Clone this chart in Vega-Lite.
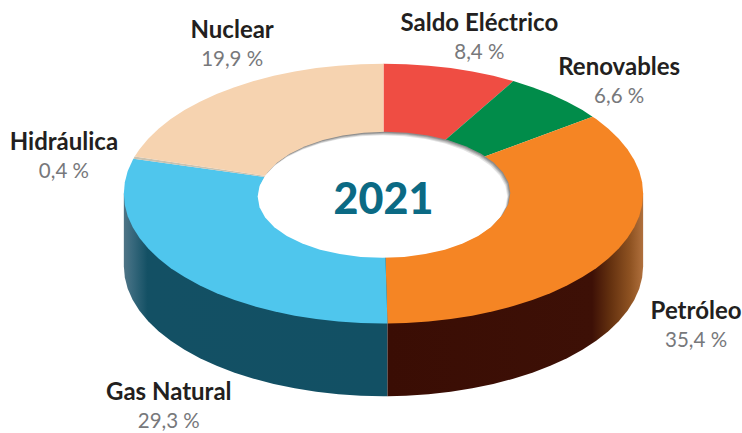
{"$schema":"https://vega.github.io/schema/vega-lite/v6.json","width":742,"height":433,"padding":0,"autosize":{"type":"fit","contains":"padding"},"background":"white","view":{"stroke":null},
"datasets":{
"walls":[
{"slice":"Gas Natural","x":124,"y":194.5,"y2":267.5},{"slice":"Gas Natural","x":125,"y":194.5,"y2":278.9},{"slice":"Gas Natural","x":127.9,"y":194.5,"y2":290.2},{"slice":"Gas Natural","x":132.9,"y":194.5,"y2":301.3},{"slice":"Gas Natural","x":139.7,"y":194.5,"y2":312.1},{"slice":"Gas Natural","x":148.4,"y":194.5,"y2":322.7},{"slice":"Gas Natural","x":158.8,"y":194.5,"y2":332.75},{"slice":"Gas Natural","x":171,"y":194.5,"y2":342.4},{"slice":"Gas Natural","x":184.8,"y":194.5,"y2":351.4},{"slice":"Gas Natural","x":200.2,"y":194.5,"y2":359.8},{"slice":"Gas Natural","x":216.9,"y":194.5,"y2":367.5},{"slice":"Gas Natural","x":234.9,"y":194.5,"y2":374.4},{"slice":"Gas Natural","x":254,"y":194.5,"y2":380.5},{"slice":"Gas Natural","x":274.1,"y":194.5,"y2":385.8},{"slice":"Gas Natural","x":295.1,"y":194.5,"y2":390.1},{"slice":"Gas Natural","x":316.7,"y":194.5,"y2":393.6},{"slice":"Gas Natural","x":338.9,"y":194.5,"y2":396},{"slice":"Gas Natural","x":361.3,"y":194.5,"y2":397.5},{"slice":"Gas Natural","x":384,"y":194.5,"y2":398},{"slice":"Gas Natural","x":388,"y":194.5,"y2":398},
{"slice":"Petróleo","x":388,"y":194.5,"y2":398},{"slice":"Petróleo","x":406.7,"y":194.5,"y2":397.5},{"slice":"Petróleo","x":429.1,"y":194.5,"y2":396},{"slice":"Petróleo","x":451.3,"y":194.5,"y2":393.6},{"slice":"Petróleo","x":472.9,"y":194.5,"y2":390.1},{"slice":"Petróleo","x":493.9,"y":194.5,"y2":385.8},{"slice":"Petróleo","x":514,"y":194.5,"y2":380.5},{"slice":"Petróleo","x":533.1,"y":194.5,"y2":374.4},{"slice":"Petróleo","x":551.1,"y":194.5,"y2":367.5},{"slice":"Petróleo","x":567.8,"y":194.5,"y2":359.8},{"slice":"Petróleo","x":583.2,"y":194.5,"y2":351.4},{"slice":"Petróleo","x":597,"y":194.5,"y2":342.4},{"slice":"Petróleo","x":609.2,"y":194.5,"y2":332.75},{"slice":"Petróleo","x":619.6,"y":194.5,"y2":322.7},{"slice":"Petróleo","x":628.3,"y":194.5,"y2":312.1},{"slice":"Petróleo","x":635.1,"y":194.5,"y2":301.3},{"slice":"Petróleo","x":640.1,"y":194.5,"y2":290.2},{"slice":"Petróleo","x":643,"y":194.5,"y2":278.9},{"slice":"Petróleo","x":644,"y":194.5,"y2":267.5}],
"wedges":[
{"slice":"Saldo Eléctrico","i":0,"x":384,"y":194.5},{"slice":"Saldo Eléctrico","i":1,"x":384,"y":64},{"slice":"Saldo Eléctrico","i":2,"x":406.7,"y":64.5},{"slice":"Saldo Eléctrico","i":3,"x":429.1,"y":66},{"slice":"Saldo Eléctrico","i":4,"x":451.3,"y":68.4},{"slice":"Saldo Eléctrico","i":5,"x":472.9,"y":71.9},{"slice":"Saldo Eléctrico","i":6,"x":493.9,"y":76.2},{"slice":"Saldo Eléctrico","i":7,"x":514,"y":81.5},{"slice":"Saldo Eléctrico","i":8,"x":384,"y":194.5},
{"slice":"Renovables","i":0,"x":384,"y":194.5},{"slice":"Renovables","i":1,"x":514,"y":81.5},{"slice":"Renovables","i":2,"x":533.1,"y":87.6},{"slice":"Renovables","i":3,"x":551.1,"y":94.5},{"slice":"Renovables","i":4,"x":567.8,"y":102.2},{"slice":"Renovables","i":5,"x":583.2,"y":110.6},{"slice":"Renovables","i":6,"x":593.3,"y":117.4},{"slice":"Renovables","i":7,"x":384,"y":194.5},
{"slice":"Petróleo","i":0,"x":384,"y":194.5},{"slice":"Petróleo","i":1,"x":593.3,"y":117.4},{"slice":"Petróleo","i":2,"x":597,"y":119.6},{"slice":"Petróleo","i":3,"x":609.2,"y":129.25},{"slice":"Petróleo","i":4,"x":619.6,"y":139.3},{"slice":"Petróleo","i":5,"x":628.3,"y":149.9},{"slice":"Petróleo","i":6,"x":635.1,"y":160.7},{"slice":"Petróleo","i":7,"x":640.1,"y":171.8},{"slice":"Petróleo","i":8,"x":643,"y":183.1},{"slice":"Petróleo","i":9,"x":644,"y":194.5},{"slice":"Petróleo","i":10,"x":643,"y":205.9},{"slice":"Petróleo","i":11,"x":640.1,"y":217.2},{"slice":"Petróleo","i":12,"x":635.1,"y":228.3},{"slice":"Petróleo","i":13,"x":628.3,"y":239.1},{"slice":"Petróleo","i":14,"x":619.6,"y":249.7},{"slice":"Petróleo","i":15,"x":609.2,"y":259.75},{"slice":"Petróleo","i":16,"x":597,"y":269.4},{"slice":"Petróleo","i":17,"x":583.2,"y":278.4},{"slice":"Petróleo","i":18,"x":567.8,"y":286.8},{"slice":"Petróleo","i":19,"x":551.1,"y":294.5},{"slice":"Petróleo","i":20,"x":533.1,"y":301.4},{"slice":"Petróleo","i":21,"x":514,"y":307.5},{"slice":"Petróleo","i":22,"x":493.9,"y":312.8},{"slice":"Petróleo","i":23,"x":472.9,"y":317.1},{"slice":"Petróleo","i":24,"x":451.3,"y":320.6},{"slice":"Petróleo","i":25,"x":429.1,"y":323},{"slice":"Petróleo","i":26,"x":406.7,"y":324.5},{"slice":"Petróleo","i":27,"x":388,"y":325},{"slice":"Petróleo","i":28,"x":384,"y":194.5},
{"slice":"Gas Natural","i":0,"x":384,"y":194.5},{"slice":"Gas Natural","i":1,"x":388,"y":325},{"slice":"Gas Natural","i":2,"x":384,"y":325},{"slice":"Gas Natural","i":3,"x":361.3,"y":324.5},{"slice":"Gas Natural","i":4,"x":338.9,"y":323},{"slice":"Gas Natural","i":5,"x":316.7,"y":320.6},{"slice":"Gas Natural","i":6,"x":295.1,"y":317.1},{"slice":"Gas Natural","i":7,"x":274.1,"y":312.8},{"slice":"Gas Natural","i":8,"x":254,"y":307.5},{"slice":"Gas Natural","i":9,"x":234.9,"y":301.4},{"slice":"Gas Natural","i":10,"x":216.9,"y":294.5},{"slice":"Gas Natural","i":11,"x":200.2,"y":286.8},{"slice":"Gas Natural","i":12,"x":184.8,"y":278.4},{"slice":"Gas Natural","i":13,"x":171,"y":269.4},{"slice":"Gas Natural","i":14,"x":158.8,"y":259.75},{"slice":"Gas Natural","i":15,"x":148.4,"y":249.7},{"slice":"Gas Natural","i":16,"x":139.7,"y":239.1},{"slice":"Gas Natural","i":17,"x":132.9,"y":228.3},{"slice":"Gas Natural","i":18,"x":127.9,"y":217.2},{"slice":"Gas Natural","i":19,"x":125,"y":205.9},{"slice":"Gas Natural","i":20,"x":124,"y":194.5},{"slice":"Gas Natural","i":21,"x":125,"y":183.1},{"slice":"Gas Natural","i":22,"x":127.9,"y":171.8},{"slice":"Gas Natural","i":23,"x":132.9,"y":160.7},{"slice":"Gas Natural","i":24,"x":133.6,"y":159.4},{"slice":"Gas Natural","i":25,"x":384,"y":194.5},
{"slice":"Hidráulica","i":0,"x":384,"y":194.5},{"slice":"Hidráulica","i":1,"x":133.6,"y":159.4},{"slice":"Hidráulica","i":2,"x":134.8,"y":157.2},{"slice":"Hidráulica","i":3,"x":384,"y":194.5},
{"slice":"Nuclear","i":0,"x":384,"y":194.5},{"slice":"Nuclear","i":1,"x":134.8,"y":157.2},{"slice":"Nuclear","i":2,"x":139.7,"y":149.9},{"slice":"Nuclear","i":3,"x":148.4,"y":139.3},{"slice":"Nuclear","i":4,"x":158.8,"y":129.25},{"slice":"Nuclear","i":5,"x":171,"y":119.6},{"slice":"Nuclear","i":6,"x":184.8,"y":110.6},{"slice":"Nuclear","i":7,"x":200.2,"y":102.2},{"slice":"Nuclear","i":8,"x":216.9,"y":94.5},{"slice":"Nuclear","i":9,"x":234.9,"y":87.6},{"slice":"Nuclear","i":10,"x":254,"y":81.5},{"slice":"Nuclear","i":11,"x":274.1,"y":76.2},{"slice":"Nuclear","i":12,"x":295.1,"y":71.9},{"slice":"Nuclear","i":13,"x":316.7,"y":68.4},{"slice":"Nuclear","i":14,"x":338.9,"y":66},{"slice":"Nuclear","i":15,"x":361.3,"y":64.5},{"slice":"Nuclear","i":16,"x":384,"y":64},{"slice":"Nuclear","i":17,"x":384,"y":194.5}],
"hole":[
{"i":0,"x":508,"y":197.5},{"i":1,"x":506.1,"y":208.2},{"i":2,"x":500.5,"y":218.5},{"i":3,"x":491.3,"y":228.25},{"i":4,"x":478.8,"y":237},{"i":5,"x":463.3,"y":244.6},{"i":6,"x":445.5,"y":250.8},{"i":7,"x":425.8,"y":255.3},{"i":8,"x":404.7,"y":258.1},{"i":9,"x":383,"y":259},{"i":10,"x":361.3,"y":258.1},{"i":11,"x":340.2,"y":255.3},{"i":12,"x":320.5,"y":250.8},{"i":13,"x":302.7,"y":244.6},{"i":14,"x":287.2,"y":237},{"i":15,"x":274.7,"y":228.25},{"i":16,"x":265.5,"y":218.5},{"i":17,"x":259.9,"y":208.2},{"i":18,"x":258,"y":197.5},{"i":19,"x":259.9,"y":186.8},{"i":20,"x":265.5,"y":176.5},{"i":21,"x":274.7,"y":166.75},{"i":22,"x":287.2,"y":158},{"i":23,"x":302.7,"y":150.4},{"i":24,"x":320.5,"y":144.2},{"i":25,"x":340.2,"y":139.7},{"i":26,"x":361.3,"y":136.9},{"i":27,"x":383,"y":136},{"i":28,"x":404.7,"y":136.9},{"i":29,"x":425.8,"y":139.7},{"i":30,"x":445.5,"y":144.2},{"i":31,"x":463.3,"y":150.4},{"i":32,"x":478.8,"y":158},{"i":33,"x":491.3,"y":166.75},{"i":34,"x":500.5,"y":176.5},{"i":35,"x":506.1,"y":186.8},{"i":36,"x":508,"y":197.5}],
"labels":[
{"slice":"Nuclear","pct":"19,9 %","x":232.5,"y":38},
{"slice":"Saldo Eléctrico","pct":"8,4 %","x":480,"y":31},
{"slice":"Renovables","pct":"6,6 %","x":620,"y":75},
{"slice":"Hidráulica","pct":"0,4 %","x":64,"y":151},
{"slice":"Petróleo","pct":"35,4 %","x":697,"y":320},
{"slice":"Gas Natural","pct":"29,3 %","x":169,"y":402}],
"center":[{"text":"2021","x":384,"y":215}]
},
"layer":[
{"data":{"name":"walls"},"transform":[{"filter":"datum.slice === 'Gas Natural'"}],"mark":{"type":"area","color":{"gradient":"linear","x1":0,"y1":0,"x2":1,"y2":0,"stops":[{"offset":0,"color":"#4f7485"},{"offset":0.03,"color":"#3a6a7e"},{"offset":0.09,"color":"#135064"},{"offset":1,"color":"#125064"}]}},"encoding":{"x":{"field":"x","type":"quantitative","scale":{"domain":[0,742],"nice":false,"zero":false},"axis":null},"y":{"field":"y","type":"quantitative","scale":{"domain":[433,0],"nice":false,"zero":false},"axis":null},"y2":{"field":"y2"}}},
{"data":{"name":"walls"},"transform":[{"filter":"datum.slice === 'Petróleo'"}],"mark":{"type":"area","color":{"gradient":"linear","x1":0,"y1":0,"x2":1,"y2":0,"stops":[{"offset":0,"color":"#3a0d04"},{"offset":0.8,"color":"#3d1006"},{"offset":0.87,"color":"#63300f"},{"offset":0.95,"color":"#8f5322"},{"offset":1,"color":"#b0703d"}]}},"encoding":{"x":{"field":"x","type":"quantitative"},"y":{"field":"y","type":"quantitative"},"y2":{"field":"y2"}}},
{"data":{"name":"wedges"},"mark":{"type":"line","strokeWidth":0,"fillOpacity":1},"encoding":{"x":{"field":"x","type":"quantitative"},"y":{"field":"y","type":"quantitative"},"order":{"field":"i","type":"ordinal"},"detail":{"field":"slice"},"fill":{"field":"slice","type":"nominal","legend":null,"scale":{"domain":["Saldo Eléctrico","Renovables","Petróleo","Gas Natural","Hidráulica","Nuclear"],"range":["#ef4d43","#018c4a","#f58524","#4fc6ed","#c9c2b0","#f6d3b0"]}}}},
{"data":{"name":"hole"},"mark":{"type":"line","strokeWidth":0,"fill":"#8c8c8c","xOffset":3,"yOffset":-3.5},"encoding":{"x":{"field":"x","type":"quantitative"},"y":{"field":"y","type":"quantitative"},"order":{"field":"i","type":"ordinal"}}},
{"data":{"name":"hole"},"mark":{"type":"line","strokeWidth":0,"fill":"#a8a8a8","xOffset":2.2,"yOffset":-2.6},"encoding":{"x":{"field":"x","type":"quantitative"},"y":{"field":"y","type":"quantitative"},"order":{"field":"i","type":"ordinal"}}},
{"data":{"name":"hole"},"mark":{"type":"line","strokeWidth":0,"fill":"#c6c6c6","xOffset":1.5,"yOffset":-1.8},"encoding":{"x":{"field":"x","type":"quantitative"},"y":{"field":"y","type":"quantitative"},"order":{"field":"i","type":"ordinal"}}},
{"data":{"name":"hole"},"mark":{"type":"line","strokeWidth":0,"fill":"#e4e4e4","xOffset":0.8,"yOffset":-0.9},"encoding":{"x":{"field":"x","type":"quantitative"},"y":{"field":"y","type":"quantitative"},"order":{"field":"i","type":"ordinal"}}},
{"data":{"name":"hole"},"mark":{"type":"line","strokeWidth":0,"fill":"#ffffff"},"encoding":{"x":{"field":"x","type":"quantitative"},"y":{"field":"y","type":"quantitative"},"order":{"field":"i","type":"ordinal"}}},
{"data":{"name":"center"},"mark":{"type":"text","font":"Lato","fontWeight":900,"fontSize":43,"color":"#0b6a84","align":"center","baseline":"alphabetic"},"encoding":{"x":{"field":"x","type":"quantitative"},"y":{"field":"y","type":"quantitative"},"text":{"field":"text"}}},
{"data":{"name":"labels"},"mark":{"type":"text","font":"Lato","fontWeight":700,"fontSize":24,"color":"#231f20","align":"center","baseline":"alphabetic"},"encoding":{"x":{"field":"x","type":"quantitative"},"y":{"field":"y","type":"quantitative"},"text":{"field":"slice"}}},
{"data":{"name":"labels"},"mark":{"type":"text","font":"Lato","fontWeight":400,"fontSize":20.5,"color":"#77787b","align":"center","baseline":"alphabetic","yOffset":28},"encoding":{"x":{"field":"x","type":"quantitative"},"y":{"field":"y","type":"quantitative"},"text":{"field":"pct"}}}
]}
